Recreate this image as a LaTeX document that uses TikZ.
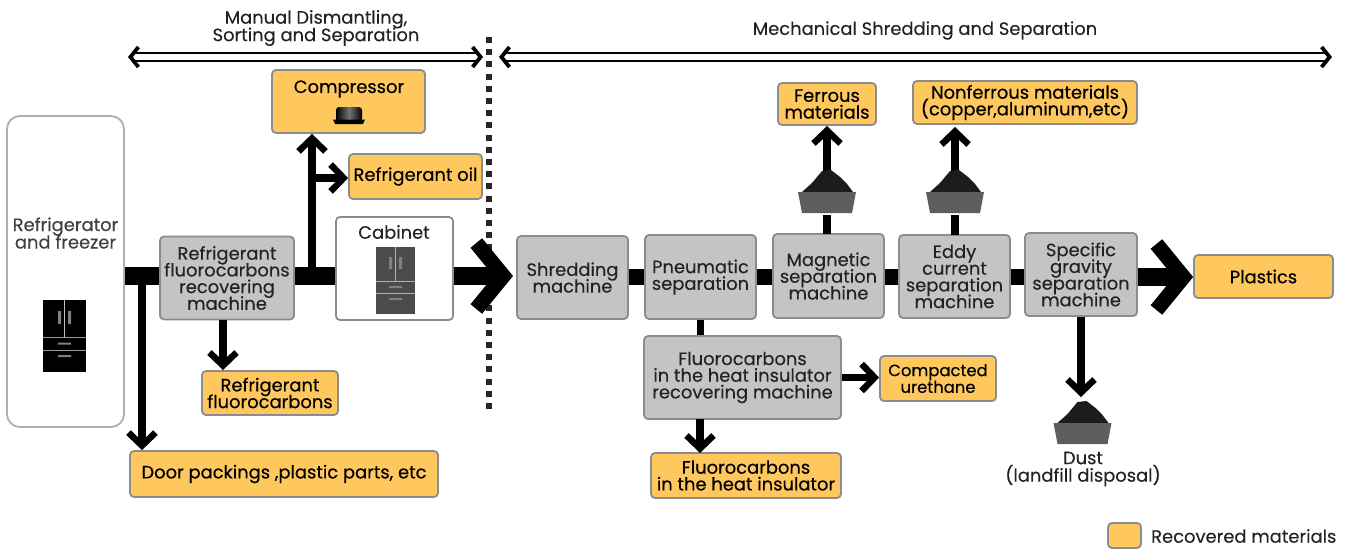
\documentclass[tikz,border=0pt]{standalone}
\usepackage{fontspec}
\setmainfont{Poppins}
\newfontface\medf{Poppins}[FakeBold=0.35]
\newfontface\regf{Poppins}[FakeBold=0.15]
\usetikzlibrary{arrows.meta,calc}
\newcommand\tightlines{\lineskiplimit=-30pt\relax}
\definecolor{ybox}{HTML}{FFC85F}
\definecolor{gbox}{HTML}{C4C4C4}
\definecolor{edge}{HTML}{8C8C8C}
\definecolor{ink}{HTML}{222222}
\definecolor{bucket}{HTML}{5E5E5E}
\definecolor{pile}{HTML}{1C1C1C}
\tikzset{
  x=1pt,y=-1pt,
  base/.style={draw=edge,line width=1.8pt,rounded corners=4pt,inner sep=0pt,align=center,text=ink,font=\fontsize{17.9}{16.7}\selectfont\regf\tightlines},
  yellowbox/.style={base,fill=ybox,font=\fontsize{17.9}{16.7}\selectfont\medf\tightlines,text=black},
  graybox/.style={base,fill=gbox},
  whitebox/.style={base,fill=white},
  label/.style={inner sep=0pt,align=center,text=ink,font=\fontsize{17.9}{17.5}\selectfont\regf\tightlines},
  thin flow/.style={line width=7.5pt,draw=black,-{Straight Barb[length=13pt,width=27pt,line width=6.5pt]}},
  big flow/.style={line width=18pt,draw=black,-{Straight Barb[length=27pt,width=66pt,line width=15pt]}},
  plain flow/.style={line width=18pt,draw=black},
  stub flow/.style={line width=7.5pt,draw=black},
  span outline/.style={draw=black,line width=10pt,shorten <=7pt,shorten >=7pt},
  span fill/.style={draw=white,line width=6pt,{Straight Barb[black,length=8pt,width=20pt,line width=3.8pt]}-{Straight Barb[black,length=8pt,width=20pt,line width=3.8pt]}},
}
\begin{document}
\begin{tikzpicture}
\useasboundingbox (0,0) rectangle (1351,549);
% dashed separator
\coordinate (sepT) at (489,37);
\coordinate (sepB) at (489,415);
\draw[line width=6pt,black!85,dash pattern=on 6pt off 6.2pt] (sepT) -- (sepB);
% boxes
\node[whitebox,rounded corners=13pt,draw=edge!70,minimum width=117,minimum height=311] (fridge) at (65.5,271.5) {};
\node[graybox,minimum width=134,minimum height=83] (rfr) at (227,278) {Refrigerant\\fluorocarbons\\recovering\\machine};
\node[whitebox,minimum width=117,minimum height=103] (cab) at (394.5,268.5) {};
\node[yellowbox,minimum width=153,minimum height=63] (comp) at (348.5,101.5) {};
\node[yellowbox,minimum width=133,minimum height=45] (oil) at (415.5,176.5) {Refrigerant oil};
\node[yellowbox,minimum width=136,minimum height=44] (rf) at (270,393) {Refrigerant\\fluorocarbons};
\node[yellowbox,minimum width=308,minimum height=46] (door) at (284,474) {Door packings ,plastic parts, etc};
\node[graybox,minimum width=111,minimum height=83] (shred) at (572.5,277.5) {Shredding\\machine};
\node[graybox,minimum width=111,minimum height=84] (pneu) at (700.5,277) {Pneumatic\\separation};
\node[graybox,minimum width=111,minimum height=84] (mag) at (828.5,276) {Magnetic\\separation\\machine};
\node[graybox,minimum width=111,minimum height=83] (eddy) at (954.5,276.5) {Eddy\\current\\separation\\machine};
\node[graybox,minimum width=112,minimum height=83] (spec) at (1081,274.5) {Specific\\gravity\\separation\\machine};
\node[yellowbox,minimum width=139,minimum height=43] (plast) at (1263.5,276.5) {Plastics};
\node[yellowbox,minimum width=98,minimum height=42] (ferr) at (827,104) {Ferrous\\materials};
\node[yellowbox,minimum width=224,minimum height=43] (nonf) at (1025,102.5) {Nonferrous materials\\(copper,aluminum,etc)};
\node[graybox,minimum width=197,minimum height=83] (fhm) at (742.5,377.5) {Fluorocarbons\\in the heat insulator\\recovering machine};
\node[yellowbox,font=\fontsize{16.4}{16.7}\selectfont\medf\tightlines,minimum width=116,minimum height=45] (urth) at (938,378.5) {Compacted\\urethane};
\node[yellowbox,minimum width=190,minimum height=45] (fhi) at (746,475.5) {Fluorocarbons\\in the heat insulator};
\node[yellowbox,minimum width=33,minimum height=25] (leg) at (1124.5,535.5) {};
% labels
\node[label,text=black!75] (l1) at (65.5,233) {Refrigerator\\and freezer};
\node[label] (l2) at (394,232) {Cabinet};
\node[label,text=black,font=\fontsize{17.9}{17}\selectfont\medf] (l3) at (349,89) {Compressor};
\node[label] (l4) at (316,28) {Manual Dismantling,\\Sorting and Separation};
\node[label] (l5) at (925,30.5) {Mechanical Shredding and Separation};
\node[label] (l6) at (1083,469) {Dust\\(landfill disposal)};
\node[label,anchor=west] (l7) at (1151,536) {Recovered materials};
% span arrows
\coordinate (a1) at (128,57);\coordinate (a2) at (483,57);
\coordinate (b1) at (499,57);\coordinate (b2) at (1332,57);
\draw[span outline] (a1) -- (a2);
\draw[span fill] (a1) -- (a2);
\draw[span outline] (b1) -- (b2);
\draw[span fill] (b1) -- (b2);
% main flow
\draw[plain flow] (fridge.east |- 0,276) -- (rfr.west |- 0,276);
\draw[plain flow] (rfr.east |- 0,276) -- (cab.west |- 0,276);
\draw[big flow] (cab.east |- 0,276) -- (513,276);
\draw[plain flow,line width=16pt] (shred.east |- 0,277) -- (pneu.west |- 0,277);
\draw[plain flow,line width=16pt] (pneu.east |- 0,277) -- (mag.west |- 0,277);
\draw[plain flow,line width=16pt] (mag.east |- 0,277) -- (eddy.west |- 0,277);
\draw[plain flow,line width=16pt] (eddy.east |- 0,277) -- (spec.west |- 0,277);
\draw[big flow] (spec.east |- 0,277) -- (plast.west |- 0,277);
% branches
\coordinate (tr) at (312,276);
\coordinate (trb) at (312,178);
\draw[thin flow] (tr) -- (tr |- comp.south);
\draw[thin flow] (trb) -- (oil.west |- trb);
\coordinate (dr) at (142,276);
\draw[thin flow] (dr) -- (dr |- door.north);
\draw[thin flow] (223,320) -- (223,370);
\draw[stub flow] (pneu.south) -- (fhm.north -| pneu.south);
\draw[thin flow] (700,419) -- (700,453);
\draw[thin flow] (fhm.east) -- (urth.west |- fhm.east);
\draw[thin flow] (spec.south) -- (1081,397);
\draw[stub flow] (827,234) -- (827,215);
\draw[thin flow] (827,172) -- (827,126);
\draw[stub flow] (955,235) -- (955,215);
\draw[thin flow] (955,172) -- (955,127);
% buckets
\foreach \cx/\cy in {827/192,955/192,1082.5/423}{
  \fill[pile] (\cx-25,\cy) -- (\cx-15,\cy-9) -- (\cx-5,\cy-21) -- (\cx+4,\cy-22) -- (\cx+13,\cy-15) -- (\cx+20,\cy-8) -- (\cx+26,\cy) -- cycle;
  \fill[bucket] (\cx-29,\cy) -- (\cx+29,\cy) -- (\cx+25,\cy+21) -- (\cx-25,\cy+21) -- cycle;
}
% fridge icons
\begin{scope}[shift={(43,300)}]
\fill[black] (0,0) rectangle (43,72);
\draw[white!75!black,line width=1pt] (21.5,0) -- (21.5,37);
\draw[white!60!black,line width=1pt] (0,37) -- (43,37) (0,50) -- (43,50);
\fill[gray] (15,11) rectangle (18,24) (25,11) rectangle (28,24) (15,42.5) rectangle (28,44.5) (15,55) rectangle (28,57);
\end{scope}
\begin{scope}[shift={(376,247)}]
\fill[bucket!80!black] (0,0) rectangle (39,67);
\draw[white!70!black,line width=1pt] (19.5,0) -- (19.5,34);
\draw[white!70!black,line width=1pt] (0,34) -- (39,34) (0,46) -- (39,46);
\fill[gray] (13,10) rectangle (16,22) (23,10) rectangle (26,22) (13,39) rectangle (26,41) (13,51) rectangle (26,53);
\end{scope}
% compressor icon
\shade[left color=black,right color=black,middle color=black!55,rounded corners=3pt] (336,107) rectangle (362,122);
\fill[black] (333,119.5) -- (365,119.5) -- (363,124) -- (335,124) -- cycle;
\end{tikzpicture}
\end{document}
